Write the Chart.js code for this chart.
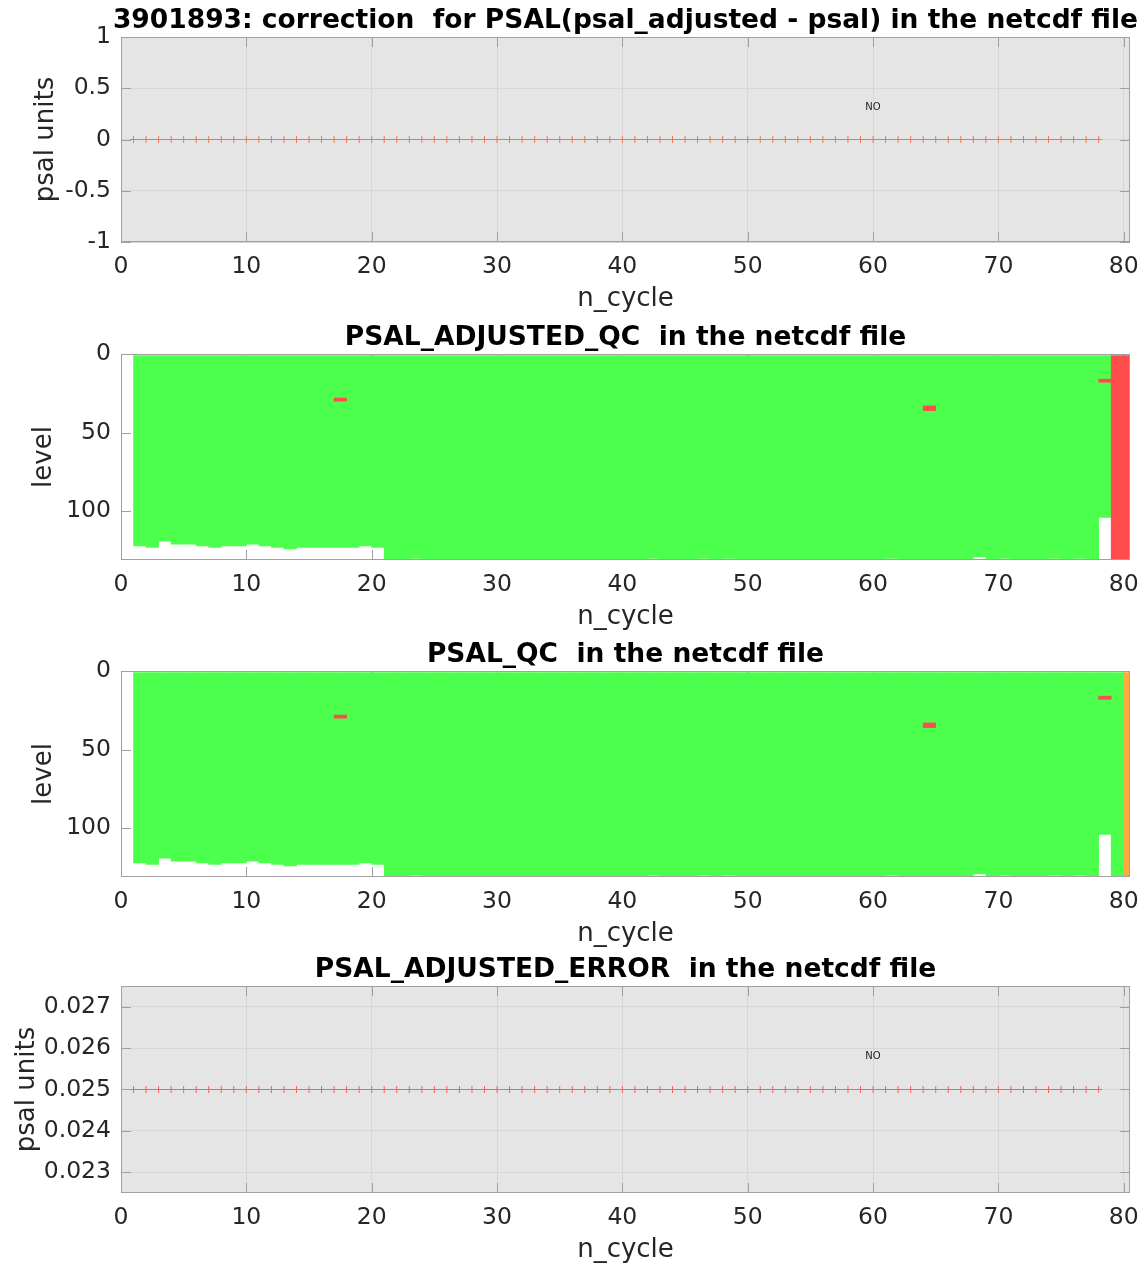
<!DOCTYPE html>
<html><head><meta charset="utf-8">
<script src="https://cdn.jsdelivr.net/npm/chart.js@4/dist/chart.umd.min.js"></script>
<style>
html,body{margin:0;padding:0;background:#fff;width:1146px;height:1266px;overflow:hidden;}
.box{position:absolute;left:0;width:1146px;}
canvas{display:block;}
</style></head><body>
<div class="box" style="top:0px"><canvas id="c1" width="1146" height="317"></canvas></div>
<div class="box" style="top:317px"><canvas id="c2" width="1146" height="318"></canvas></div>
<div class="box" style="top:634px"><canvas id="c3" width="1146" height="318"></canvas></div>
<div class="box" style="top:949px"><canvas id="c4" width="1146" height="319"></canvas></div>
<script>
// ---------------- data ----------------
const lineCycles = [1,2,3,4,5,6,7,8,9,10,11,12,13,14,15,16,17,18,19,20,21,22,23,24,25,26,27,28,29,30,31,32,33,34,35,36,37,38,39,40,41,42,43,44,45,46,47,48,49,50,51,52,53,54,55,56,57,58,59,60,61,62,63,64,65,66,67,68,69,70,71,72,73,74,75,76,77,78];
const psalCorrection = [0,0,0,0,0,0,0,0,0,0,0,0,0,0,0,0,0,0,0,0,0,0,0,0,0,0,0,0,0,0,0,0,0,0,0,0,0,0,0,0,0,0,0,0,0,0,0,0,0,0,0,0,0,0,0,0,0,0,0,0,0,0,0,0,0,0,0,0,0,0,0,0,0,0,0,0,0,0];
const psalAdjustedError = [0.025,0.025,0.025,0.025,0.025,0.025,0.025,0.025,0.025,0.025,0.025,0.025,0.025,0.025,0.025,0.025,0.025,0.025,0.025,0.025,0.025,0.025,0.025,0.025,0.025,0.025,0.025,0.025,0.025,0.025,0.025,0.025,0.025,0.025,0.025,0.025,0.025,0.025,0.025,0.025,0.025,0.025,0.025,0.025,0.025,0.025,0.025,0.025,0.025,0.025,0.025,0.025,0.025,0.025,0.025,0.025,0.025,0.025,0.025,0.025,0.025,0.025,0.025,0.025,0.025,0.025,0.025,0.025,0.025,0.025,0.025,0.025,0.025,0.025,0.025,0.025,0.025,0.025];

const heatCycles = [1,2,3,4,5,6,7,8,9,10,11,12,13,14,15,16,17,18,19,20,21,22,23,24,25,26,27,28,29,30,31,32,33,34,35,36,37,38,39,40,41,42,43,44,45,46,47,48,49,50,51,52,53,54,55,56,57,58,59,60,61,62,63,64,65,66,67,68,69,70,71,72,73,74,75,76,77,78,79,80];
// deepest level reached by each profile
const profileBottom = [122,123,119,121,121,122,123,122,122,121,122,123,124,123,123,123,123,123,122,123,
  131,131,130,131,131,131,131,131,131,131,131,131,131,131,131,131,131,131,131,131,131,130,131,131,131,130,131,130,131,131,
  131,131,131,131,131,131,131,131,131,131,130,131,131,131,131,131,131,129,131,130,131,131,131,130,131,130,131,104,131,131];
const firstLevel = 1;
// isolated bad (QC=4) cells
const badCycles = [17, 64, 78];
const badLevelFrom = [28, 33, 16];
const badLevelTo = [30, 36, 18];
// whole profiles flagged
const adjQcBadCycles = [79, 80];
const qcProbableCycles = [80];

const xTickValues = [0,10,20,30,40,50,60,70,80];
const corrTickValues = [-1,-0.5,0,0.5,1];
const levelTickValues = [0,50,100];
const errTickValues = [0.023,0.024,0.025,0.026,0.027];
const noteText = 'NO';
const noteCorr = {x: 60, y: 0.31};
const noteErr = {x: 60, y: 0.02579};

// ---------------- style ----------------
Chart.defaults.font.family = "'DejaVu Sans', sans-serif";
Chart.defaults.animation = false;
const FS = 23.5;      // tick labels
const LS = 26;        // axis labels
const TS = 26.5;      // titles
const tickColor = 'rgb(38,38,38)';
const gridColor = 'rgb(214,214,214)';
const axisColor = 'rgb(160,160,160)';
const bgGray = 'rgb(229,229,229)';
const GREEN = 'rgb(77,255,77)';
const RED = 'rgb(255,77,77)';
const ORANGE = 'rgb(255,170,64)';

function deco(cfg) {
  return {
    id: 'deco',
    beforeDraw(chart) {
      if (!cfg.bg) return;
      const a = chart.chartArea, ctx = chart.ctx;
      ctx.save(); ctx.fillStyle = cfg.bg;
      ctx.fillRect(a.left, a.top, a.right - a.left, a.bottom - a.top);
      ctx.restore();
    },
    beforeDatasetsDraw(chart) {
      const a = chart.chartArea, ctx = chart.ctx;
      const xs = chart.scales.x, ys = chart.scales.y;
      ctx.save(); ctx.strokeStyle = axisColor; ctx.lineWidth = 1;
      ctx.beginPath();
      xs.ticks.forEach(t => {
        const p = Math.round(xs.getPixelForValue(t.value)) + 0.5;
        ctx.moveTo(p, a.bottom); ctx.lineTo(p, a.bottom - 10);
        ctx.moveTo(p, a.top); ctx.lineTo(p, a.top + 10);
      });
      ys.ticks.forEach(t => {
        const p = Math.round(ys.getPixelForValue(t.value)) + 0.5;
        ctx.moveTo(a.left, p); ctx.lineTo(a.left + 10, p);
        ctx.moveTo(a.right, p); ctx.lineTo(a.right - 10, p);
      });
      ctx.stroke(); ctx.restore();
    },
    afterDatasetsDraw(chart) {
      const a = chart.chartArea, ctx = chart.ctx;
      ctx.save();
      ctx.strokeStyle = axisColor; ctx.lineWidth = 1;
      ctx.strokeRect(a.left + 0.5, a.top + 0.5, a.right - a.left - 1, a.bottom - a.top - 1);
      if (cfg.note) {
        ctx.fillStyle = '#222'; ctx.font = "10px 'DejaVu Sans'";
        ctx.textAlign = 'center'; ctx.textBaseline = 'middle';
        ctx.fillText(noteText, chart.scales.x.getPixelForValue(cfg.note.x), chart.scales.y.getPixelForValue(cfg.note.y));
      }
      ctx.fillStyle = '#000'; ctx.font = "bold " + TS + "px 'DejaVu Sans'";
      ctx.textAlign = 'center'; ctx.textBaseline = 'middle';
      ctx.fillText(cfg.title, (a.left + a.right) / 2, a.top - 16);
      ctx.restore();
    }
  };
}

function xAxis(showGrid) {
  return {
    type: 'linear', position: 'bottom', min: 0, max: 80.5, offset: false,
    afterBuildTicks: s => { s.ticks = xTickValues.map(v => ({value: v})); },
    ticks: {color: tickColor, font: {size: FS}, padding: 11, maxRotation: 0, autoSkip: false},
    grid: {display: showGrid, color: gridColor, drawTicks: false, offset: false},
    border: {display: false},
    title: {display: true, text: 'n_cycle', color: tickColor, font: {size: LS}, padding: {top: 0, bottom: 2}},
    afterFit: s => { s.height = 75; s.paddingLeft = 0; s.paddingRight = 0; }
  };
}
function yAxis(o) {
  return {
    type: 'linear', position: 'left', min: o.min, max: o.max, reverse: !!o.reverse,
    afterBuildTicks: s => { s.ticks = o.ticks.map(v => ({value: v})); },
    ticks: {color: tickColor, font: {size: FS}, padding: 10, autoSkip: false,
      callback: o.fmt || (v => String(v))},
    grid: {display: o.grid, color: gridColor, drawTicks: false},
    border: {display: false},
    title: {display: true, text: o.label, color: tickColor, font: {size: LS}, padding: {top: o.titlePad, bottom: 0}},
    afterFit: s => { s.width = 121; s.paddingTop = 0; s.paddingBottom = 0; }
  };
}
const layout = {padding: {top: 37, right: 16, left: 0, bottom: 0}};
const commonPlugins = {legend: {display: false}, tooltip: {enabled: false}, title: {display: false}};

// ---------- chart 1: correction ----------
new Chart(document.getElementById('c1'), {
  type: 'line',
  data: {datasets: [{
    data: lineCycles.map((c, i) => ({x: c, y: psalCorrection[i]})),
    borderColor: 'rgb(228,122,92)', borderWidth: 1,
    pointStyle: 'cross', pointRadius: 3.5, pointBorderWidth: 1, pointBorderColor: 'rgb(228,122,92)'
  }]},
  options: {
    responsive: false, layout, plugins: commonPlugins, events: [],
    scales: {x: xAxis(true), y: yAxis({min: -1, max: 1, ticks: corrTickValues, grid: true, label: 'psal units', titlePad: 31})}
  },
  plugins: [deco({bg: bgGray, note: noteCorr, title: '3901893: correction  for PSAL(psal_adjusted - psal) in the netcdf file'})]
});

// ---------- heatmap helpers ----------
function barSet(points, color, order) {
  return {type: 'bar', data: points, backgroundColor: color, borderWidth: 0, grouped: false,
    barPercentage: 1, categoryPercentage: 1, clip: 0, order};
}
function heatChart(id, title, fullFlagCycles, fullFlagColor) {
  const green = [];
  heatCycles.forEach((c, i) => {
    if (fullFlagCycles.indexOf(c) === -1) green.push({x: c + 0.5, y: [firstLevel, profileBottom[i]]});
  });
  const flagged = fullFlagCycles.map(c => ({x: c + 0.5, y: [firstLevel, profileBottom[heatCycles.indexOf(c)]]}));
  const bad = badCycles.map((c, i) => ({x: c + 0.5, y: [badLevelFrom[i], badLevelTo[i]]}));
  new Chart(document.getElementById(id), {
    type: 'bar',
    data: {datasets: [barSet(bad, RED, 0), barSet(flagged, fullFlagColor, 1), barSet(green, GREEN, 2)]},
    options: {
      responsive: false, layout, plugins: commonPlugins, events: [],
      scales: {x: xAxis(false), y: yAxis({min: 0, max: 131, reverse: true, ticks: levelTickValues, grid: false, label: 'level', titlePad: 29})}
    },
    plugins: [deco({bg: null, note: null, title})]
  });
}
heatChart('c2', 'PSAL_ADJUSTED_QC  in the netcdf file', adjQcBadCycles, RED);
heatChart('c3', 'PSAL_QC  in the netcdf file', qcProbableCycles, ORANGE);

// ---------- chart 4: adjusted error ----------
new Chart(document.getElementById('c4'), {
  type: 'line',
  data: {datasets: [{
    data: lineCycles.map((c, i) => ({x: c, y: psalAdjustedError[i]})),
    borderColor: 'rgb(240,100,100)', borderWidth: 1,
    pointStyle: 'cross', pointRadius: 3.5, pointBorderWidth: 1, pointBorderColor: 'rgb(240,100,100)'
  }]},
  options: {
    responsive: false, layout, plugins: commonPlugins, events: [],
    scales: {x: xAxis(true), y: yAxis({min: 0.0225, max: 0.0275, ticks: errTickValues, grid: true, label: 'psal units', titlePad: 12, fmt: v => v.toFixed(3)})}
  },
  plugins: [deco({bg: bgGray, note: noteErr, title: 'PSAL_ADJUSTED_ERROR  in the netcdf file'})]
});
</script>
</body></html>
